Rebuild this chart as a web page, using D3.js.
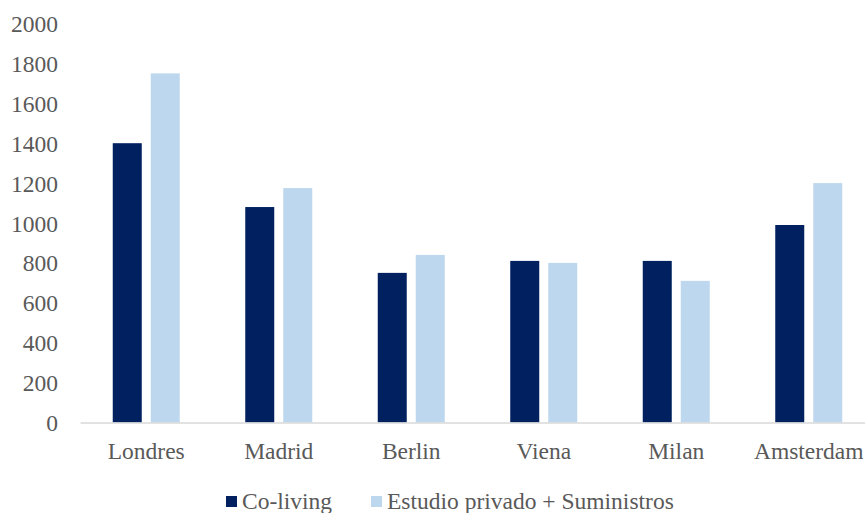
<!DOCTYPE html>
<html><head><meta charset="utf-8">
<script src="https://cdn.jsdelivr.net/npm/d3@7"></script>
<style>body{margin:0;background:#fff}svg{display:block}</style>
</head><body>
<svg id="chart" width="865" height="513"></svg>
<script>
const categories = ["Londres","Madrid","Berlin","Viena","Milan","Amsterdam"];
const coliving = [1400,1080,750,810,810,990];
const estudio = [1750,1175,840,800,710,1200];
const seriesNames = ["Co-living","Estudio privado + Suministros"];
const yTicks = [0,200,400,600,800,1000,1200,1400,1600,1800,2000];
const colors = ["#002060","#BDD7EE"];

(function(){
const svg = d3.select("#chart");
const font = "'Liberation Serif', 'Times New Roman', serif";
const fs = 23.5;
const mLeft = 80, mRight = 875, mTop = 23.5, mBottom = 422.5;

const x = d3.scaleBand().domain(categories).range([mLeft,mRight]);
const y = d3.scaleLinear().domain([0,2000]).range([mBottom,mTop]);
const barW = 29, off = 19;

const yAxis = d3.axisLeft(y).tickValues(yTicks).tickFormat(d3.format("d")).tickSize(0).tickPadding(0);
const gy = svg.append("g").attr("transform",`translate(58,0)`).call(yAxis);
gy.select(".domain").remove();
gy.selectAll("text").attr("font-family",font).attr("font-size",fs).attr("fill","#595959").attr("dy","0.34em");

const data = [coliving, estudio];
data.forEach((vals,si)=>{
  svg.append("g").selectAll("rect").data(vals).join("rect")
    .attr("x",(d,i)=>x(categories[i])+x.bandwidth()/2+(si===0?-off:off)-barW/2)
    .attr("y",d=>y(d))
    .attr("width",barW)
    .attr("height",d=>y(0)-y(d))
    .attr("fill",colors[si]);
});

const xAxis = d3.axisBottom(x).tickSize(0).tickPadding(0);
const gx = svg.append("g").attr("transform",`translate(0,${mBottom})`).call(xAxis);
gx.select(".domain").attr("stroke","#D9D9D9").attr("stroke-width",1.3);
gx.selectAll("text").attr("font-family",font).attr("font-size",fs).attr("fill","#595959").attr("y",20).attr("dy","0.71em");

const leg = svg.append("g");
const legX = [226,371];
seriesNames.forEach((n,i)=>{
  leg.append("rect").attr("x",legX[i]).attr("y",496).attr("width",11).attr("height",11).attr("fill",colors[i]);
  leg.append("text").attr("x",legX[i]+16).attr("y",509).attr("font-family",font).attr("font-size",fs).attr("fill","#595959").text(n);
});
})();
</script>
</body></html>
